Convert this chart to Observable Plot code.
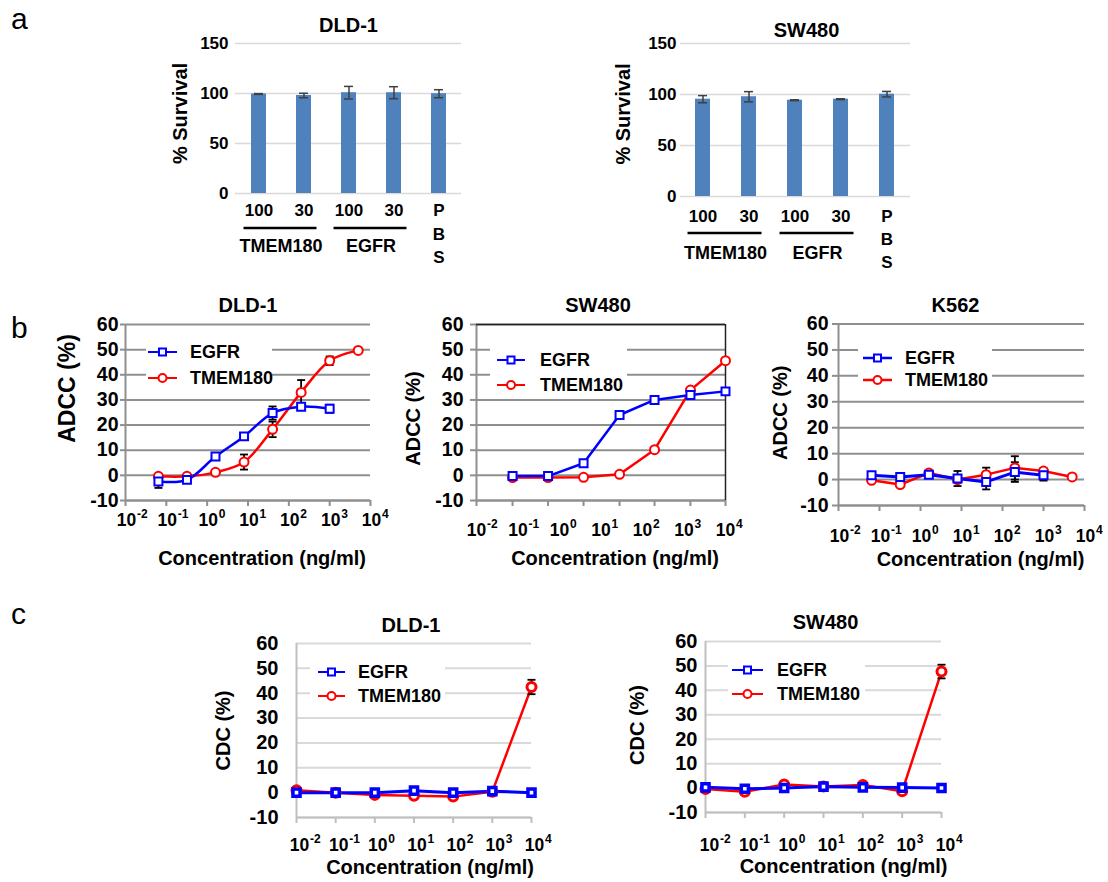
<!DOCTYPE html>
<html>
<head>
<meta charset="utf-8">
<script src="https://cdn.jsdelivr.net/npm/d3@7"></script>
<script src="https://cdn.jsdelivr.net/npm/@observablehq/plot@0.6"></script>
<style>
html,body{margin:0;padding:0;background:#fff;}
#fig{position:relative;width:1108px;height:882px;overflow:hidden;background:#fff;}
</style>
</head>
<body>
<div id="fig"></div>
<script>
// ---------------- DATA ----------------
// Panel a: % survival
const survivalKeys = ["TMEM180-100", "TMEM180-30", "EGFR-100", "EGFR-30", "PBS"];
const survivalDoseLabels = ["100", "30", "100", "30", "P\nB\nS"];
const survivalGroups = ["TMEM180", "TMEM180", "EGFR", "EGFR", null];
const survivalGroupNames = ["TMEM180", "EGFR"];
const dld1Survival = [99.5, 98, 100.8, 100.8, 99.8];
const dld1SurvivalErr = [0.4, 2.2, 6.3, 6, 4];
const sw480Survival = [95.4, 97.8, 94.4, 95.4, 100.3];
const sw480SurvivalErr = [3.5, 5, 0.4, 0.4, 2.7];

// Panel b: ADCC (%)
const dld1AdccConc = [0.064, 0.32, 1.6, 8, 40, 200, 1000, 5000];
const dld1AdccEGFR = [-2.4, -1.8, 7.5, 15.5, 24.8, 27.3, 26.5];
const dld1AdccEGFRErr = [2.6, 1, 1.2, 1, 2.6, 1, 1.6];
const dld1AdccTMEM = [-0.4, -0.4, 1.2, 5.3, 18.3, 33, 45.6, 49.7];
const dld1AdccTMEMErr = [0.3, 0.3, 0.5, 3, 3.1, 4.9, 1.7, 0.3];

const sw480AdccConc = [0.074, 0.53, 3.8, 28, 195, 1430, 10000];
const sw480AdccEGFR = [-0.3, -0.3, 4.8, 24, 30, 32, 33.4];
const sw480AdccTMEM = [-0.9, -0.9, -0.8, 0.4, 10.2, 33.9, 45.6];

const k562AdccConc = [0.064, 0.32, 1.6, 8, 40, 200, 1000, 5000];
const k562AdccEGFR = [1.7, 1.0, 1.9, 0.4, -0.9, 2.9, 1.7];
const k562AdccEGFRErr = [0.5, 0.5, 1, 2.9, 2.9, 3.8, 2.1];
const k562AdccTMEM = [-0.3, -1.9, 2.5, 0, 1.9, 4.5, 3.3, 1.0];
const k562AdccTMEMErr = [0.3, 0.5, 0.5, 0.5, 2.7, 4.5, 1, 0.3];

// Panel c: CDC (%)
const cdcConc = [0.01, 0.1, 1, 10, 100, 1000, 10000];
const dld1CdcEGFR = [0, 0, 0, 0.8, 0, 0.6, 0];
const dld1CdcTMEM = [1.0, 0, -0.9, -1.3, -1.6, 0.4, 42.5];
const dld1CdcTMEMErr = [0.3, 0.3, 0.6, 0.3, 0.3, 0.3, 2.9];
const sw480CdcEGFR = [0.3, -0.3, 0, 0.6, 0.3, 0.2, 0];
const sw480CdcTMEM = [-0.4, -1.5, 1.5, 0.6, 1.3, -1.3, 47.7];
const sw480CdcTMEMErr = [0.3, 0.3, 0.4, 0.3, 0.3, 0.3, 2.8];

const decades = [0.01, 0.1, 1, 10, 100, 1000, 10000];
const yTicksPct = [-10, 0, 10, 20, 30, 40, 50, 60];
const survivalTicks = [0, 50, 100, 150];
const seriesNames = ["EGFR", "TMEM180"];

// ---------------- HELPERS ----------------
const FONT = "'Liberation Sans', Arial, Helvetica, sans-serif";
const BLUE = "#0000ff", RED = "#ff0000";
const fig = document.getElementById("fig");

function place(el, left, top) {
  el.style.position = "absolute";
  el.style.left = left + "px";
  el.style.top = top + "px";
  fig.appendChild(el);
  return el;
}
const baseStyle = (fs) => ({fontFamily: FONT, fontSize: fs + "px", fontWeight: "bold", color: "#000", background: "transparent", overflow: "visible"});

const capSymbol = {draw(ctx) { ctx.moveTo(-4, 0); ctx.lineTo(4, 0); }};
const centered = {textAnchor: "middle", lineAnchor: "middle"};

function survivalPanel(o) {
  const rows = survivalKeys.map((key, i) => ({key, dose: survivalDoseLabels[i], v: o.values[i], e: o.errors[i]}));
  const doseOf = new Map(rows.map(r => [r.key, r.dose]));
  const svg = Plot.plot({
    width: o.width, height: o.height,
    marginLeft: o.mL, marginRight: o.mR, marginTop: o.mT, marginBottom: o.mB,
    style: baseStyle(17),
    x: {type: "band", domain: survivalKeys, paddingInner: 0.67, paddingOuter: 0.335},
    y: {domain: [0, 150]},
    marks: [
      Plot.ruleY(survivalTicks, {stroke: "#d9d9d9", strokeWidth: 1.5}),
      Plot.axisY({ticks: survivalTicks, tickSize: 0, tickPadding: o.yPad, tickFormat: d => String(d), label: null}),
      Plot.axisX({tickSize: 0, tickPadding: o.xPad, tickFormat: k => doseOf.get(k), lineHeight: o.lineH, label: null}),
      Plot.barY(rows, {x: "key", y: "v", fill: "#4f81bd", inset: 0}),
      Plot.ruleX(rows, {x: "key", y1: d => d.v - d.e, y2: d => d.v + d.e, stroke: "#3f3f3f", strokeWidth: 1.5}),
      Plot.tickY(rows, {x: "key", y: d => d.v + d.e, stroke: "#3f3f3f", strokeWidth: 1.5, inset: 3}),
      Plot.tickY(rows, {x: "key", y: d => d.v - d.e, stroke: "#3f3f3f", strokeWidth: 1.5, inset: 3}),
      Plot.text([o.title], {text: d => d, frameAnchor: "top", ...centered, dx: o.titleDx, dy: o.titleDy, fontSize: 20}),
      Plot.text(["% Survival"], {text: d => d, frameAnchor: "left", ...centered, rotate: -90, dx: o.yLabelDx, dy: o.yLabelDy, fontSize: 20})
    ]
  });
  const xs = svg.scale("x");
  const half = xs.bandwidth / 2;
  const g = d3.select(svg).append("g");
  survivalGroupNames.forEach(name => {
    const keys = survivalKeys.filter((k, i) => survivalGroups[i] === name);
    const c1 = xs.apply(keys[0]) + half, c2 = xs.apply(keys[keys.length - 1]) + half;
    g.append("line").attr("x1", c1 - 15).attr("x2", c2 + 13).attr("y1", o.ulY).attr("y2", o.ulY)
      .attr("stroke", "#000").attr("stroke-width", 2.5);
    g.append("text").attr("x", (c1 + c2) / 2).attr("y", o.groupY).attr("dy", "0.35em")
      .attr("text-anchor", "middle").attr("font-size", 18).text(name);
  });
  place(svg, o.left, o.top);
}

function concPanel(o) {
  const marks = [];
  marks.push(Plot.ruleY(yTicksPct, {stroke: o.grid, strokeWidth: o.gridW}));
  marks.push(Plot.ruleX([0.01], {stroke: o.axis, strokeWidth: o.axisW}));
  marks.push(Plot.ruleY([-10], {stroke: o.axis, strokeWidth: o.axisW}));
  if (o.box) {
    marks.push(Plot.ruleY([60], {stroke: "#222", strokeWidth: 1.5}));
    marks.push(Plot.ruleX([10000], {stroke: "#222", strokeWidth: 1.5}));
  }
  marks.push(Plot.axisY({ticks: yTicksPct, tickSize: o.yTickSize, tickPadding: o.yTickPad, stroke: o.axis, strokeWidth: o.axisW, tickFormat: d => String(d), label: null}));
  marks.push(Plot.axisX({ticks: o.xTicks, tickSize: 6, stroke: o.axis, strokeWidth: o.axisW, tickFormat: () => "", label: null}));
  marks.push(Plot.text(decades, {x: d => d, text: () => "10", frameAnchor: "bottom", ...centered, dx: o.decDx, dy: o.decDy, fontSize: 17.5}));
  marks.push(Plot.text(decades, {x: d => d, text: d => String(Math.round(Math.log10(d))), frameAnchor: "bottom", textAnchor: "start", lineAnchor: "middle", dx: o.decDx + 10.5, dy: o.decDy - 6, fontSize: 12}));
  const rowsOf = s => s.y.map((y, i) => ({x: s.x[i], y, e: s.err ? s.err[i] : 0}));
  o.series.forEach(s => marks.push(Plot.line(rowsOf(s), {x: "x", y: "y", stroke: s.color, strokeWidth: s.lw, curve: o.curve})));
  const errRows = o.series.flatMap(s => rowsOf(s)).filter(d => d.e > 0);
  marks.push(Plot.ruleX(errRows, {x: "x", y1: d => d.y - d.e, y2: d => d.y + d.e, stroke: "#000", strokeWidth: 1.8}));
  marks.push(Plot.dot(errRows, {x: "x", y: d => d.y + d.e, symbol: capSymbol, fill: "none", stroke: "#000", strokeWidth: 1.8}));
  marks.push(Plot.dot(errRows, {x: "x", y: d => d.y - d.e, symbol: capSymbol, fill: "none", stroke: "#000", strokeWidth: 1.8}));
  o.series.forEach(s => marks.push(Plot.dot(rowsOf(s), {x: "x", y: "y", symbol: s.symbol, r: s.r, fill: "white", stroke: s.color, strokeWidth: s.sw})));
  marks.push(Plot.text([o.title], {text: d => d, frameAnchor: "top", ...centered, dx: o.titleDx, dy: o.titleDy, fontSize: 20}));
  marks.push(Plot.text([o.yLabel], {text: d => d, frameAnchor: "left", ...centered, rotate: -90, dx: o.yLabelDx, dy: o.yLabelDy, fontSize: o.yLabelFont || 20}));
  marks.push(Plot.text(["Concentration (ng/ml)"], {text: d => d, frameAnchor: "bottom", ...centered, dx: o.xLabelDx, dy: o.xLabelDy, fontSize: 20}));
  const svg = Plot.plot({
    width: o.width, height: o.height,
    marginLeft: o.mL, marginRight: o.mR, marginTop: o.mT, marginBottom: o.mB,
    style: baseStyle(o.tickFont),
    x: {type: "log", domain: [0.01, 10000]},
    y: {domain: [-10, 60]},
    marks
  });
  place(svg, o.left, o.top);
}

function legend(o) {
  const w = o.x1 - o.x0, h = o.y1 - o.y0;
  const svg = d3.create("svg").attr("width", w).attr("height", h).style("overflow", "visible");
  svg.append("rect").attr("width", w).attr("height", h).attr("fill", "#fff");
  const colors = [BLUE, RED];
  const syms = [d3.symbolSquare, d3.symbolCircle];
  const sizes = [o.sq * o.sq, Math.PI * o.cr * o.cr];
  seriesNames.forEach((name, i) => {
    const y = o.rows[i] - o.y0;
    svg.append("line").attr("x1", o.lx0 - o.x0).attr("x2", o.lx1 - o.x0).attr("y1", y).attr("y2", y)
      .attr("stroke", colors[i]).attr("stroke-width", o.lw);
    svg.append("path").attr("d", d3.symbol(syms[i], sizes[i])())
      .attr("transform", `translate(${(o.lx0 + o.lx1) / 2 - o.x0},${y})`)
      .attr("fill", "#fff").attr("stroke", colors[i]).attr("stroke-width", o.sw);
    svg.append("text").attr("x", o.tx - o.x0).attr("y", y).attr("dy", "0.35em")
      .attr("font-family", FONT).attr("font-weight", "bold").attr("font-size", 18).text(name);
  });
  place(svg.node(), o.x0, o.y0);
}

// ---------------- PANEL a ----------------
survivalPanel({title: "DLD-1", values: dld1Survival, errors: dld1SurvivalErr,
  left: 150, top: 0, width: 330, height: 280, mL: 85, mR: 19, mT: 43, mB: 87,
  yPad: 7, xPad: 6, lineH: 1.38, ulY: 228, groupY: 246,
  titleDx: 0, titleDy: -18, yLabelDx: -55, yLabelDy: -5});
survivalPanel({title: "SW480", values: sw480Survival, errors: sw480SurvivalErr,
  left: 580, top: 0, width: 340, height: 280, mL: 100, mR: 10, mT: 43, mB: 84,
  yPad: 4, xPad: 9, lineH: 1.35, ulY: 233, groupY: 253,
  titleDx: 11, titleDy: -13, yLabelDx: -57, yLabelDy: -6});

// ---------------- PANEL b ----------------
concPanel({title: "DLD-1", yLabel: "ADCC (%)", yLabelFont: 23,
  left: 40, top: 290, width: 345, height: 290, mL: 85, mR: 15, mT: 34, mB: 80,
  grid: "#8f8f8f", gridW: 2, axis: "#8f8f8f", axisW: 2, tickFont: 19.5,
  yTickSize: 5, yTickPad: 2, xTicks: decades, decDx: 1, decDy: 20,
  titleDx: 0, titleDy: -19, yLabelDx: -58, yLabelDy: -24, xLabelDx: 14, xLabelDy: 58,
  curve: "catmull-rom",
  series: [
    {x: dld1AdccConc, y: dld1AdccTMEM, err: dld1AdccTMEMErr, color: RED, symbol: "circle", r: 4.5, sw: 2, lw: 2.5},
    {x: dld1AdccConc, y: dld1AdccEGFR, err: dld1AdccEGFRErr, color: BLUE, symbol: "square", r: 4.5, sw: 2, lw: 2.5}
  ]});
concPanel({title: "SW480", yLabel: "ADCC (%)",
  left: 395, top: 290, width: 345, height: 290, mL: 81, mR: 15, mT: 34, mB: 80, box: true,
  grid: "#8f8f8f", gridW: 2, axis: "#8f8f8f", axisW: 2, tickFont: 19.5,
  yTickSize: 6, yTickPad: 7, xTicks: [0.01, ...sw480AdccConc], decDx: 0, decDy: 30,
  titleDx: -3, titleDy: -19, yLabelDx: -63, yLabelDy: 6, xLabelDx: 14, xLabelDy: 58,
  curve: "linear",
  series: [
    {x: sw480AdccConc, y: sw480AdccTMEM, color: RED, symbol: "circle", r: 4.5, sw: 2, lw: 2.5},
    {x: sw480AdccConc, y: sw480AdccEGFR, color: BLUE, symbol: "square", r: 4.5, sw: 2, lw: 2.5}
  ]});
concPanel({title: "K562", yLabel: "ADCC (%)",
  left: 755, top: 290, width: 350, height: 290, mL: 83, mR: 21, mT: 33.5, mB: 75,
  grid: "#8f8f8f", gridW: 2, axis: "#8f8f8f", axisW: 2, tickFont: 19.5,
  yTickSize: 6, yTickPad: 4, xTicks: decades, decDx: 1, decDy: 31,
  titleDx: -6, titleDy: -18, yLabelDx: -58, yLabelDy: -2, xLabelDx: 19, xLabelDy: 54,
  curve: "linear",
  series: [
    {x: k562AdccConc, y: k562AdccTMEM, err: k562AdccTMEMErr, color: RED, symbol: "circle", r: 4.5, sw: 2, lw: 2.5},
    {x: k562AdccConc, y: k562AdccEGFR, err: k562AdccEGFRErr, color: BLUE, symbol: "square", r: 4.5, sw: 2, lw: 3}
  ]});

// ---------------- PANEL c ----------------
concPanel({title: "DLD-1", yLabel: "CDC (%)",
  left: 190, top: 600, width: 360, height: 282, mL: 106, mR: 19, mT: 43, mB: 65,
  grid: "#d9d9d9", gridW: 2, axis: "#bfbfbf", axisW: 2, tickFont: 20,
  yTickSize: 0, yTickPad: 18, xTicks: cdcConc, decDx: 3, decDy: 28,
  titleDx: -3, titleDy: -18, yLabelDx: -73, yLabelDy: 0, xLabelDx: 16, xLabelDy: 50,
  curve: "linear",
  series: [
    {x: cdcConc, y: dld1CdcTMEM, err: dld1CdcTMEMErr, color: RED, symbol: "circle", r: 4.5, sw: 3, lw: 2.5},
    {x: cdcConc, y: dld1CdcEGFR, color: BLUE, symbol: "square", r: 4, sw: 3.5, lw: 3}
  ]});
concPanel({title: "SW480", yLabel: "CDC (%)",
  left: 600, top: 600, width: 360, height: 282, mL: 105, mR: 19, mT: 41, mB: 70,
  grid: "#d9d9d9", gridW: 2, axis: "#bfbfbf", axisW: 2, tickFont: 20,
  yTickSize: 0, yTickPad: 8, xTicks: cdcConc, decDx: 4, decDy: 33,
  titleDx: 2, titleDy: -19, yLabelDx: -68, yLabelDy: -2, xLabelDx: 20, xLabelDy: 54,
  curve: "linear",
  series: [
    {x: cdcConc, y: sw480CdcTMEM, err: sw480CdcTMEMErr, color: RED, symbol: "circle", r: 4.5, sw: 3, lw: 2.5},
    {x: cdcConc, y: sw480CdcEGFR, color: BLUE, symbol: "square", r: 4, sw: 3.5, lw: 3}
  ]});

// ---------------- LEGENDS ----------------
legend({x0: 146, x1: 272, y0: 338, y1: 392, rows: [352, 378], lx0: 148, lx1: 177, tx: 190, lw: 2, sw: 2, sq: 7, cr: 4});
legend({x0: 490, x1: 627, y0: 343, y1: 396, rows: [360, 385], lx0: 497, lx1: 525, tx: 540, lw: 2, sw: 2, sq: 7, cr: 4});
legend({x0: 858, x1: 992, y0: 342, y1: 392, rows: [358, 380], lx0: 863, lx1: 892, tx: 905, lw: 2.5, sw: 2, sq: 7, cr: 4});
legend({x0: 310, x1: 445, y0: 655, y1: 710, rows: [672, 696], lx0: 318, lx1: 345, tx: 358, lw: 2, sw: 2, sq: 7, cr: 4});
legend({x0: 728, x1: 865, y0: 652, y1: 708, rows: [670, 694], lx0: 732, lx1: 763, tx: 777, lw: 2, sw: 2, sq: 7, cr: 4});

// ---------------- PANEL LETTERS ----------------
const letters = d3.create("svg").attr("width", 60).attr("height", 660);
[["a", 29], ["b", 338], ["c", 624]].forEach(([t, y]) => {
  letters.append("text").attr("x", 11).attr("y", y).attr("font-family", FONT).attr("font-size", 30).text(t);
});
place(letters.node(), 0, 0);
</script>
</body>
</html>
